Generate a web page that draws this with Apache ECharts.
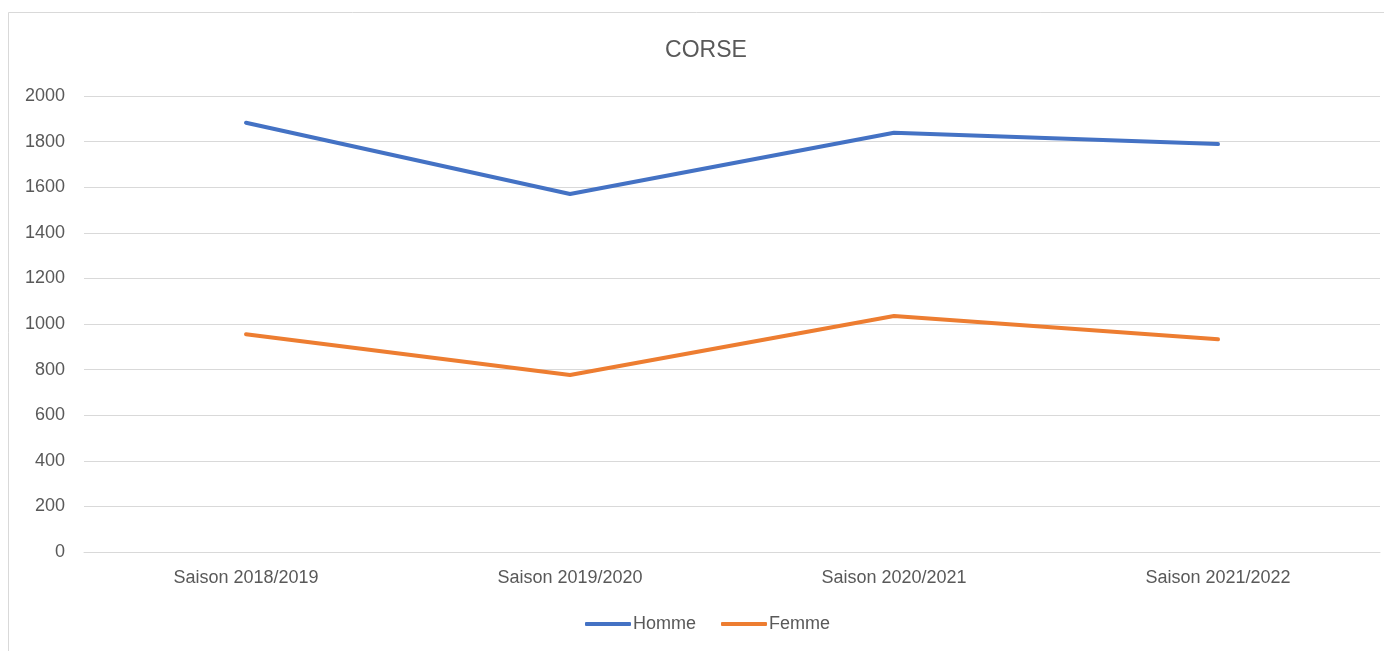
<!DOCTYPE html>
<html>
<head>
<meta charset="utf-8">
<script src="https://cdn.jsdelivr.net/npm/echarts@6/dist/echarts.min.js"></script>
<style>
    html, body { margin: 0; padding: 0; background: #fff; }
    #corse { width: 1384px; height: 651px; }
</style>
</head>
<body>
<div id="corse"></div>
<script>
var saisons = ['Saison 2018/2019', 'Saison 2019/2020', 'Saison 2020/2021', 'Saison 2021/2022'];
var homme = [1883, 1570, 1839, 1789];
var femme = [955, 776, 1035, 933];

function draw_corse() {
    var myChart = echarts.init(document.getElementById("corse"));
    var option = {
        backgroundColor: '#fff',
        textStyle: { fontFamily: 'Liberation Sans' },
        graphic: [{
            type: 'rect',
            shape: { x: 8.5, y: 12.5, width: 1400, height: 700 },
            style: { fill: 'none', stroke: '#d9d9d9', lineWidth: 1 },
            silent: true
        }],
        title: {
            text: 'CORSE',
            left: 701,
            textAlign: 'center',
            top: 34,
            textStyle: { fontSize: 23, fontWeight: 'normal', color: '#595959' }
        },
        legend: {
            data: ['Homme', 'Femme'],
            left: 580,
            bottom: 13,
            icon: 'roundRect',
            itemWidth: 46,
            itemHeight: 4,
            itemGap: 25,
            textStyle: { fontSize: 18, color: '#595959', padding: [0, 0, 0, -3] }
        },
        grid: {
            left: 84,
            right: 4,
            top: 96,
            bottom: 99
        },
        xAxis: {
            type: 'category',
            data: saisons,
            axisLine: { lineStyle: { color: '#d9d9d9' } },
            axisTick: { show: false },
            axisLabel: { fontSize: 18, color: '#595959', margin: 17 }
        },
        yAxis: {
            type: 'value',
            min: 0,
            max: 2000,
            interval: 200,
            axisLine: { show: false },
            axisTick: { show: false },
            axisLabel: {
                fontSize: 18,
                color: '#595959',
                margin: 19,
                formatter: function (v) { return String(v); }
            },
            splitLine: { lineStyle: { color: '#d9d9d9', width: 1 } }
        },
        series: [
            {
                name: 'Homme',
                type: 'line',
                data: homme,
                symbol: 'none',
                color: '#4472C4',
                lineStyle: { width: 4, color: '#4472C4', cap: 'round' }
            },
            {
                name: 'Femme',
                type: 'line',
                data: femme,
                symbol: 'none',
                color: '#ED7D31',
                lineStyle: { width: 4, color: '#ED7D31', cap: 'round' }
            }
        ]
    };
    myChart.setOption(option);
}

draw_corse();
</script>
</body>
</html>
